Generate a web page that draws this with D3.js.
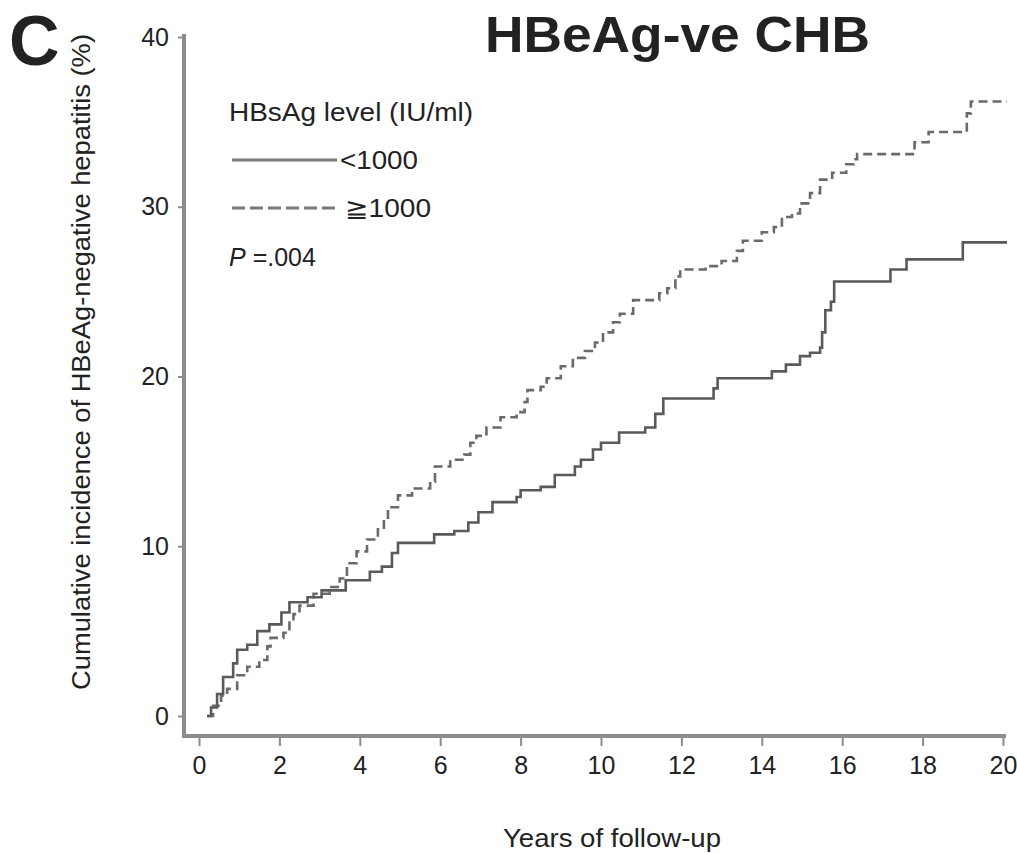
<!DOCTYPE html>
<html>
<head>
<meta charset="utf-8">
<script src="https://cdn.jsdelivr.net/npm/d3@7"></script>
<style>
  body { margin: 0; background: #fff; }
  text { font-family: "Liberation Sans", Arial, sans-serif; fill: #222; }
</style>
</head>
<body>
<div id="chart"></div>
<script>
// years of follow-up / cumulative incidence (%)
var lowYears = [0.2, 0.3, 0.45, 0.6, 0.85, 0.95, 1.2, 1.45, 1.75, 2.05, 2.25, 2.7, 3.05, 3.65, 4.25, 4.55, 4.8, 4.95,
  5.85, 6.35, 6.7, 6.95, 7.3, 7.9, 8.0, 8.5, 8.85, 9.35, 9.5, 9.8, 10.0, 10.45, 11.1, 11.35, 11.55, 12.8, 12.9,
  14.25, 14.6, 14.95, 15.2, 15.45, 15.5, 15.58, 15.72, 15.8, 17.2, 17.6, 19.0, 20.1];
var lowValues = [0, 0.5, 1.3, 2.3, 3.1, 3.9, 4.2, 5.0, 5.4, 6.1, 6.7, 7.0, 7.4, 8.0, 8.5, 8.8, 9.6, 10.2,
  10.7, 10.9, 11.4, 12.0, 12.6, 12.9, 13.3, 13.5, 14.2, 14.7, 15.1, 15.7, 16.1, 16.7, 17.0, 17.8, 18.7, 19.3, 19.9,
  20.3, 20.7, 21.2, 21.4, 21.7, 22.6, 23.9, 24.4, 25.6, 26.3, 26.9, 27.9, 27.9];

var highYears = [0.2, 0.35, 0.55, 0.7, 0.95, 1.2, 1.5, 1.7, 1.78, 2.1, 2.25, 2.35, 2.5, 2.85, 3.25, 3.5, 3.68, 3.92,
  4.18, 4.45, 4.6, 4.7, 4.95, 5.3, 5.75, 5.87, 6.25, 6.6, 6.75, 6.9, 7.15, 7.5, 7.9, 8.1, 8.17, 8.5, 8.65, 9.0,
  9.3, 9.6, 9.85, 10.05, 10.3, 10.47, 10.8, 11.45, 11.65, 11.85, 11.97, 12.6, 13.0, 13.38, 13.53, 14.0, 14.3,
  14.5, 14.75, 14.95, 15.2, 15.45, 15.75, 16.1, 16.28, 16.37, 17.8, 18.15, 19.1, 19.2, 20.1];
var highValues = [0, 0.6, 1.2, 1.6, 2.4, 2.9, 3.3, 4.1, 4.6, 4.9, 5.5, 6.0, 6.5, 7.2, 7.6, 8.1, 9.0, 9.7,
  10.4, 11.0, 11.6, 12.3, 13.0, 13.4, 13.8, 14.7, 15.1, 15.4, 16.1, 16.5, 17.0, 17.6, 17.9, 18.5, 19.2, 19.4, 19.9, 20.6,
  21.1, 21.5, 22.0, 22.6, 23.2, 23.7, 24.5, 24.9, 25.2, 25.9, 26.3, 26.5, 26.8, 27.4, 28.0, 28.5, 28.8,
  29.4, 29.6, 30.2, 30.8, 31.6, 32.0, 32.5, 32.8, 33.1, 33.8, 34.4, 35.5, 36.2, 36.2];

var xTicks = [0, 2, 4, 6, 8, 10, 12, 14, 16, 18, 20];
var yTicks = [0, 10, 20, 30, 40];
var legendTitle = "HBsAg level (IU/ml)";
var legendLabels = ["<1000", "\u22671000"];

var svgWidth = 1017;
var svgHeight = 853;

var svg = d3.select("#chart")
  .append("svg")
  .attr("width", svgWidth)
  .attr("height", svgHeight);

var x = d3.scaleLinear().domain([0, 20]).range([199, 1003]);
var y = d3.scaleLinear().domain([0, 40]).range([716, 37]);

var axisColor = "#8c8c8c";

// y axis
var yAxis = svg.append("g")
  .attr("transform", "translate(184,0)")
  .call(d3.axisLeft(y).tickValues(yTicks).tickSize(6).tickPadding(9));
yAxis.select(".domain").remove();
yAxis.selectAll("line").attr("stroke", axisColor).attr("stroke-width", 2);
yAxis.selectAll("text")
  .attr("font-size", 25)
  .attr("font-family", "Liberation Sans, Arial, sans-serif")
  .attr("fill", "#333");

svg.append("line")
  .attr("x1", 184).attr("x2", 184)
  .attr("y1", 34).attr("y2", 737)
  .attr("stroke", axisColor).attr("stroke-width", 4);

// x axis
var xAxis = svg.append("g")
  .attr("transform", "translate(0,737)")
  .call(d3.axisBottom(x).tickValues(xTicks).tickSize(9).tickPadding(10));
xAxis.select(".domain").remove();
xAxis.selectAll("line").attr("stroke", axisColor).attr("stroke-width", 2);
xAxis.selectAll("text")
  .attr("font-size", 25)
  .attr("font-family", "Liberation Sans, Arial, sans-serif")
  .attr("fill", "#333");

svg.append("line")
  .attr("x1", 182).attr("x2", 1006)
  .attr("y1", 736).attr("y2", 736)
  .attr("stroke", axisColor).attr("stroke-width", 4);

// curves
var line = d3.line()
  .x(d => x(d[0]))
  .y(d => y(d[1]))
  .curve(d3.curveStepAfter);

var lowData = lowYears.map((t, i) => [t, lowValues[i]]);
var highData = highYears.map((t, i) => [t, highValues[i]]);

svg.append("path")
  .datum(highData)
  .attr("d", line)
  .attr("fill", "none")
  .attr("stroke", "#6a6a6a")
  .attr("stroke-width", 2.6)
  .attr("stroke-dasharray", "9,5");

svg.append("path")
  .datum(lowData)
  .attr("d", line)
  .attr("fill", "none")
  .attr("stroke", "#5a5a5a")
  .attr("stroke-width", 2.6);

// axis titles
svg.append("text")
  .attr("transform", "translate(90,362) rotate(-90)")
  .attr("text-anchor", "middle")
  .attr("font-size", 25)
  .attr("textLength", 656)
  .attr("lengthAdjust", "spacingAndGlyphs")
  .attr("fill", "#444")
  .text("Cumulative incidence of HBeAg-negative hepatitis (%)");

svg.append("text")
  .attr("x", 612)
  .attr("y", 847)
  .attr("text-anchor", "middle")
  .attr("font-size", 25)
  .attr("textLength", 218)
  .attr("lengthAdjust", "spacingAndGlyphs")
  .attr("fill", "#333")
  .text("Years of follow-up");

// panel letter and title
svg.append("text")
  .attr("x", 9)
  .attr("y", 65)
  .attr("font-size", 70)
  .attr("font-weight", "bold")
  .attr("fill", "#000")
  .text("C");

svg.append("text")
  .attr("x", 485)
  .attr("y", 52)
  .attr("font-size", 50)
  .attr("font-weight", "bold")
  .attr("textLength", 385)
  .attr("lengthAdjust", "spacingAndGlyphs")
  .attr("fill", "#000")
  .text("HBeAg-ve CHB");

// legend
var legend = svg.append("g");

legend.append("text")
  .attr("x", 229)
  .attr("y", 121)
  .attr("font-size", 25)
  .attr("textLength", 244)
  .attr("lengthAdjust", "spacingAndGlyphs")
  .attr("fill", "#333")
  .text(legendTitle);

legend.append("line")
  .attr("x1", 232).attr("x2", 337)
  .attr("y1", 160).attr("y2", 160)
  .attr("stroke", "#777").attr("stroke-width", 3);

legend.append("text")
  .attr("x", 340)
  .attr("y", 169)
  .attr("font-size", 25)
  .attr("textLength", 78)
  .attr("lengthAdjust", "spacingAndGlyphs")
  .attr("fill", "#333")
  .text(legendLabels[0]);

legend.append("line")
  .attr("x1", 232).attr("x2", 340)
  .attr("y1", 208).attr("y2", 208)
  .attr("stroke", "#777").attr("stroke-width", 3)
  .attr("stroke-dasharray", "13,5");

legend.append("text")
  .attr("x", 345)
  .attr("y", 217)
  .attr("font-size", 25)
  .attr("textLength", 86)
  .attr("lengthAdjust", "spacingAndGlyphs")
  .attr("fill", "#333")
  .text(legendLabels[1]);

var pText = legend.append("text")
  .attr("x", 229)
  .attr("y", 266)
  .attr("font-size", 25)
  .attr("fill", "#333");
pText.append("tspan").attr("font-style", "italic").text("P");
pText.append("tspan").text(" =.004");
</script>
</body>
</html>
